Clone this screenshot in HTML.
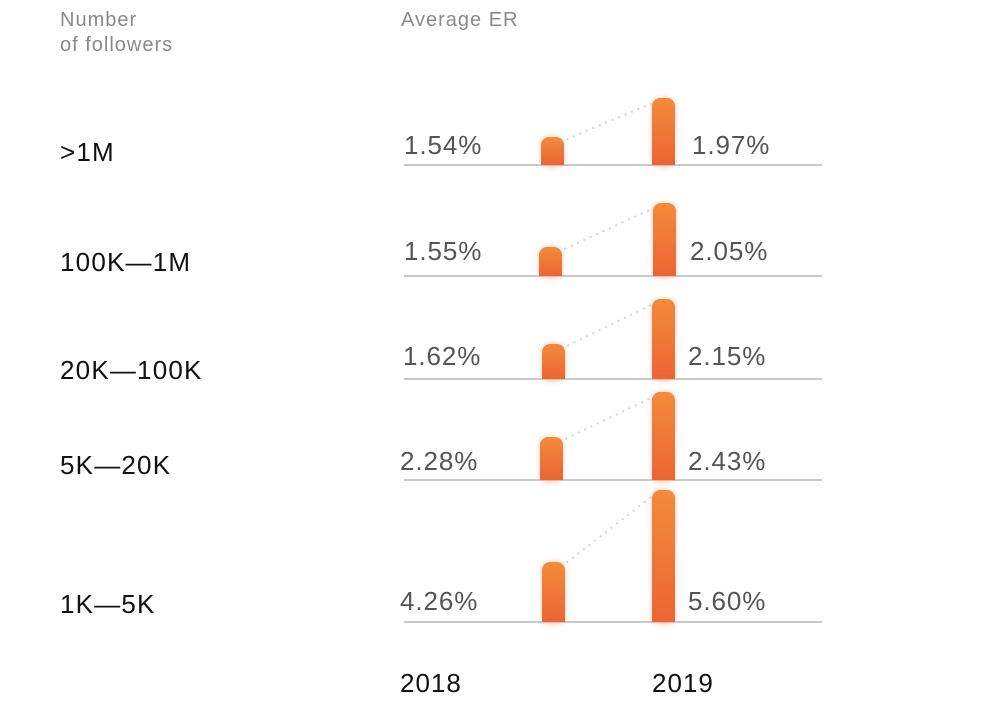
<!DOCTYPE html>
<html><head><style>
html,body{margin:0;padding:0;background:#fff;}
svg{display:block;font-family:"Liberation Sans",sans-serif;}
</style></head><body>
<svg width="1005" height="717" viewBox="0 0 1005 717" xmlns="http://www.w3.org/2000/svg">
<defs>
<linearGradient id="g" x1="0" y1="0" x2="0" y2="1"><stop offset="0" stop-color="#f38b3c"/><stop offset="1" stop-color="#ec6533"/></linearGradient>
<filter id="f" x="-100%" y="-20%" width="300%" height="140%"><feGaussianBlur stdDeviation="3"/></filter>
</defs>
<g fill="#8a8a8a" font-size="20" letter-spacing="1">
<text x="60" y="26">Number</text><text x="60" y="51">of followers</text>
<text x="401" y="26">Average ER</text>
</g>
<g fill="#111" font-size="26" letter-spacing="1.2">
<text x="60" y="161">&gt;1M</text>
<text x="60" y="271">100K—1M</text>
<text x="60" y="379">20K—100K</text>
<text x="60" y="474">5K—20K</text>
<text x="60" y="613">1K—5K</text>
</g>
<g fill="#111" font-size="26" letter-spacing="1">
<text x="400" y="692">2018</text><text x="652" y="692">2019</text>
</g>
<g stroke="#c9c9c9" stroke-width="2">
<line x1="404" y1="165" x2="822" y2="165"/>
<line x1="404" y1="276" x2="822" y2="276"/>
<line x1="404" y1="379" x2="822" y2="379"/>
<line x1="404" y1="480" x2="822" y2="480"/>
<line x1="404" y1="622" x2="822" y2="622"/>
</g>
<g stroke="#cfd6d8" stroke-width="2" stroke-dasharray="2 5">
<line x1="560" y1="142" x2="655" y2="102"/>
<line x1="558" y1="252" x2="656" y2="207"/>
<line x1="561" y1="349" x2="655" y2="303"/>
<line x1="559" y1="442" x2="655" y2="396"/>
<line x1="561" y1="567" x2="655" y2="494"/>
</g>
<g fill="#f7a58a" opacity="0.6" filter="url(#f)">
<rect x="541" y="137" width="23" height="30" rx="8"/><rect x="652" y="98" width="23" height="69" rx="8"/>
<rect x="539" y="247" width="23" height="31" rx="8"/><rect x="653" y="203" width="23" height="75" rx="8"/>
<rect x="542" y="344" width="23" height="37" rx="8"/><rect x="652" y="299" width="23" height="82" rx="8"/>
<rect x="540" y="437" width="23" height="45" rx="8"/><rect x="652" y="392" width="23" height="90" rx="8"/>
<rect x="542" y="562" width="23" height="62" rx="8"/><rect x="652" y="490" width="23" height="134" rx="8"/>
</g>
<g fill="url(#g)">
<path d="M541 165V145a8 8 0 0 1 8-8h7a8 8 0 0 1 8 8V165z"/>
<path d="M652 165V106a8 8 0 0 1 8-8h7a8 8 0 0 1 8 8V165z"/>
<path d="M539 276V255a8 8 0 0 1 8-8h7a8 8 0 0 1 8 8V276z"/>
<path d="M653 276V211a8 8 0 0 1 8-8h7a8 8 0 0 1 8 8V276z"/>
<path d="M542 379V352a8 8 0 0 1 8-8h7a8 8 0 0 1 8 8V379z"/>
<path d="M652 379V307a8 8 0 0 1 8-8h7a8 8 0 0 1 8 8V379z"/>
<path d="M540 480V445a8 8 0 0 1 8-8h7a8 8 0 0 1 8 8V480z"/>
<path d="M652 480V400a8 8 0 0 1 8-8h7a8 8 0 0 1 8 8V480z"/>
<path d="M542 622V570a8 8 0 0 1 8-8h7a8 8 0 0 1 8 8V622z"/>
<path d="M652 622V498a8 8 0 0 1 8-8h7a8 8 0 0 1 8 8V622z"/>
</g>
<g fill="#555" font-size="26" letter-spacing="0.9">
<text x="404" y="154">1.54%</text><text x="692" y="154">1.97%</text>
<text x="404" y="260">1.55%</text><text x="690" y="260">2.05%</text>
<text x="403" y="365">1.62%</text><text x="688" y="365">2.15%</text>
<text x="400" y="470">2.28%</text><text x="688" y="470">2.43%</text>
<text x="400" y="610">4.26%</text><text x="688" y="610">5.60%</text>
</g>
</svg>
</body></html>
